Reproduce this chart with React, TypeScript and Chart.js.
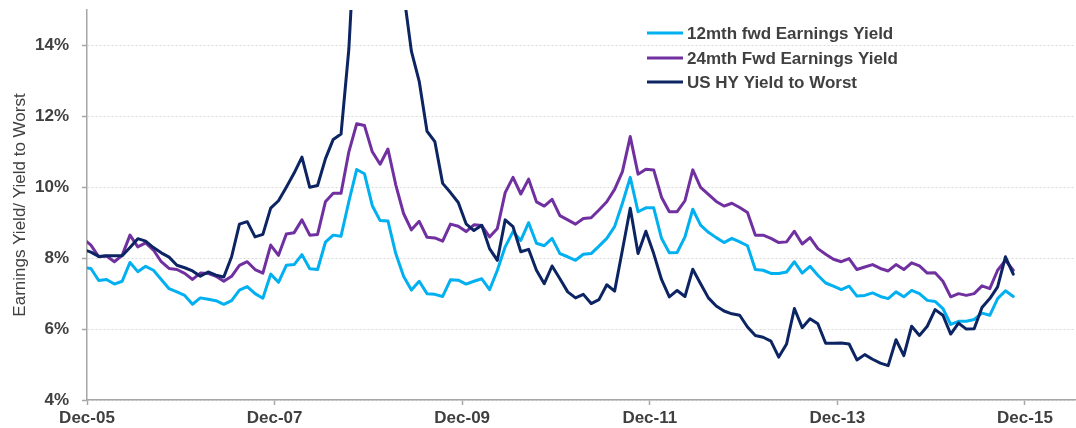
import React, { useEffect, useRef } from 'react';
import { Chart, registerables } from 'chart.js';

Chart.register(...registerables);

// Monthly observations (mid-month), Nov-05 .. Oct-15
const MONTH_NAMES = ['Jan', 'Feb', 'Mar', 'Apr', 'May', 'Jun', 'Jul', 'Aug', 'Sep', 'Oct', 'Nov', 'Dec'];
const months: string[] = Array.from({ length: 120 }, (_, i) => {
  const m = (10 + i) % 12;
  const y = 5 + Math.floor((10 + i) / 12);
  return `${MONTH_NAMES[m]}-${String(y).padStart(2, '0')}`;
});

const fwd12Yield = [
  7.73, 7.71, 7.37, 7.40, 7.27, 7.35, 7.88, 7.62, 7.77, 7.66,
  7.40, 7.14, 7.05, 6.95, 6.70, 6.88, 6.84, 6.80, 6.70, 6.80,
  7.10, 7.20, 7.00, 6.87, 7.55, 7.32, 7.80, 7.82, 8.10, 7.70,
  7.68, 8.45, 8.65, 8.62, 9.60, 10.50, 10.38, 9.48, 9.06, 9.05,
  8.13, 7.49, 7.10, 7.35, 7.00, 6.98, 6.92, 7.39, 7.38, 7.27,
  7.35, 7.42, 7.11, 7.66, 8.32, 8.75, 8.50, 9.00, 8.42, 8.35,
  8.56, 8.13, 8.04, 7.94, 8.11, 8.13, 8.34, 8.56, 8.89, 9.55,
  10.28, 9.31, 9.42, 9.42, 8.56, 8.15, 8.16, 8.60, 9.38, 8.93,
  8.73, 8.58, 8.44, 8.56, 8.46, 8.35, 7.68, 7.66, 7.57, 7.57,
  7.61, 7.90, 7.58, 7.77, 7.52, 7.30, 7.21, 7.11, 7.21, 6.93,
  6.95, 7.02, 6.92, 6.86, 7.05, 6.91, 7.09, 7.00, 6.81, 6.78,
  6.58, 6.13, 6.22, 6.22, 6.27, 6.45, 6.39, 6.86, 7.08, 6.92,
];

const fwd24Yield = [
  8.55, 8.37, 8.04, 8.06, 7.90, 8.08, 8.65, 8.32, 8.43, 8.23,
  7.90, 7.71, 7.68, 7.57, 7.40, 7.58, 7.57, 7.49, 7.35, 7.49,
  7.80, 7.90, 7.68, 7.58, 8.37, 8.08, 8.68, 8.72, 9.08, 8.65,
  8.67, 9.59, 9.83, 9.83, 11.00, 11.79, 11.74, 11.00, 10.65, 11.08,
  10.07, 9.26, 8.80, 9.04, 8.59, 8.57, 8.48, 8.96, 8.90, 8.75,
  8.94, 8.92, 8.60, 8.84, 9.85, 10.28, 9.81, 10.23, 9.59, 9.47,
  9.66, 9.20, 9.08, 8.96, 9.12, 9.14, 9.36, 9.59, 9.94, 10.44,
  11.43, 10.37, 10.51, 10.49, 9.72, 9.31, 9.31, 9.62, 10.49, 10.00,
  9.80, 9.60, 9.47, 9.55, 9.43, 9.29, 8.65, 8.65, 8.56, 8.44,
  8.46, 8.76, 8.40, 8.58, 8.27, 8.11, 7.97, 7.90, 7.99, 7.68,
  7.75, 7.82, 7.71, 7.64, 7.82, 7.68, 7.87, 7.78, 7.58, 7.59,
  7.35, 6.91, 7.00, 6.95, 7.00, 7.22, 7.14, 7.66, 7.94, 7.66,
];

const hyYieldToWorst = [
  8.25, 8.17, 8.05, 8.07, 8.07, 8.07, 8.30, 8.55, 8.48, 8.30,
  8.15, 8.03, 7.80, 7.73, 7.64, 7.49, 7.61, 7.52, 7.47, 8.04,
  8.96, 9.03, 8.60, 8.67, 9.41, 9.62, 10.00, 10.40, 10.85, 10.00,
  10.05, 10.80, 11.35, 11.50, 13.90, 18.00, 21.00, 19.50, 17.50, 18.50,
  19.00, 15.50, 13.84, 12.99, 11.58, 11.29, 10.11, 9.85, 9.57, 8.97,
  8.78, 8.93, 8.27, 7.94, 9.08, 8.89, 8.18, 8.25, 7.66, 7.28,
  7.78, 7.42, 7.05, 6.88, 6.98, 6.72, 6.83, 7.25, 7.07, 8.23,
  9.41, 8.13, 8.76, 8.13, 7.40, 6.91, 7.09, 6.92, 7.69, 7.28,
  6.88, 6.65, 6.51, 6.43, 6.39, 6.06, 5.82, 5.77, 5.66, 5.21,
  5.58, 6.58, 6.04, 6.29, 6.15, 5.60, 5.60, 5.61, 5.58, 5.13,
  5.28, 5.15, 5.04, 4.97, 5.70, 5.25, 6.08, 5.82, 6.08, 6.55,
  6.39, 5.86, 6.17, 6.00, 6.01, 6.61, 6.86, 7.19, 8.04, 7.55,
];

const seriesNames = ['12mth fwd Earnings Yield', '24mth Fwd Earnings Yield', 'US HY Yield to Worst'];
const seriesValues = [fwd12Yield, fwd24Yield, hyYieldToWorst];
const seriesColors = ['#00B0F0', '#7030A0', '#0C2462'];
const seriesOrder = [3, 2, 1];

// x axis in months since Dec-05
const xTickMonths = [0, 24, 48, 72, 96, 120];
const xTickLabels = ['Dec-05', 'Dec-07', 'Dec-09', 'Dec-11', 'Dec-13', 'Dec-15'];
const yTickValues = [4, 6, 8, 10, 12, 14];

const FONT = "'Liberation Sans', Arial, Helvetica, sans-serif";
const TEXT = '#404040';
const AXIS = '#a6a6a6';

const insideLegend = {
  id: 'insideLegend',
  afterDraw(chart: any) {
    const { ctx } = chart;
    const x0 = 647;
    const x1 = 683;
    const tx = 687;
    const rows = [33, 58, 82];
    ctx.save();
    chart.data.datasets.forEach((ds: any, i: number) => {
      ctx.strokeStyle = ds.borderColor;
      ctx.lineWidth = 3;
      ctx.beginPath();
      ctx.moveTo(x0, rows[i]);
      ctx.lineTo(x1, rows[i]);
      ctx.stroke();
      ctx.fillStyle = TEXT;
      ctx.font = `bold 17px ${FONT}`;
      ctx.textBaseline = 'middle';
      ctx.textAlign = 'left';
      ctx.fillText(ds.label, tx, rows[i] + 1);
    });
    ctx.restore();
  },
};

export default function App() {
  const ref = useRef<HTMLCanvasElement | null>(null);

  useEffect(() => {
    if (!ref.current) return;
    const chart = new Chart(ref.current, {
      type: 'line',
      data: {
        labels: months,
        datasets: seriesNames.map((name, s) => ({
          label: name,
          data: seriesValues[s].map((v, i) => ({ x: i - 0.5, y: v })),
          borderColor: seriesColors[s],
          backgroundColor: seriesColors[s],
          borderWidth: 3,
          pointRadius: 0,
          tension: 0,
          clip: 0,
          order: seriesOrder[s],
          borderJoinStyle: 'round',
          borderCapStyle: 'round',
        })),
      },
      options: {
        animation: false,
        responsive: false,
        layout: { padding: { top: 10, right: 1, left: 0, bottom: 0 } },
        plugins: {
          legend: { display: false },
          tooltip: { enabled: false },
        },
        scales: {
          x: {
            type: 'linear',
            min: 0,
            max: 126.4,
            afterBuildTicks: (scale: any) => {
              scale.ticks = xTickMonths.map((v) => ({ value: v }));
            },
            afterFit: (scale: any) => {
              scale.height = 28;
              scale.paddingLeft = 0;
              scale.paddingRight = 0;
            },
            ticks: {
              autoSkip: false,
              maxRotation: 0,
              padding: 3,
              color: TEXT,
              font: { family: FONT, size: 17, weight: 'bold' },
              callback: (_v: any, i: number) => xTickLabels[i] ?? '',
            },
            grid: {
              drawOnChartArea: false,
              drawTicks: true,
              tickLength: 5,
              tickColor: AXIS,
              tickWidth: 1.5,
            },
            border: { color: AXIS, width: 1.5 },
          },
          y: {
            min: 4,
            max: 15,
            afterBuildTicks: (scale: any) => {
              scale.ticks = yTickValues.map((v) => ({ value: v }));
            },
            afterFit: (scale: any) => {
              scale.width = 87;
              scale.paddingTop = 0;
              scale.paddingBottom = 0;
            },
            ticks: {
              padding: 13,
              color: TEXT,
              font: { family: FONT, size: 17, weight: 'bold' },
              callback: (v: any) => `${v}%`,
            },
            grid: {
              color: '#d9d9d9',
              lineWidth: 1,
              drawTicks: true,
              tickLength: 5,
              tickColor: AXIS,
              tickWidth: 1.5,
              tickBorderDash: [],
            },
            border: { color: AXIS, width: 1.5, dash: [2, 2] },
            title: {
              display: true,
              text: 'Earnings Yield/ Yield to Worst',
              color: TEXT,
              font: { family: FONT, size: 17, weight: '500' },
              padding: { top: 10, bottom: 0 },
            },
          },
        },
      } as any,
      plugins: [insideLegend],
    });
    return () => chart.destroy();
  }, []);

  return (
    <div style={{ position: 'absolute', left: 0, top: 0, width: 1076, height: 428, background: '#ffffff' }}>
      <canvas ref={ref} width={1076} height={428} style={{ display: 'block' }} />
    </div>
  );
}
